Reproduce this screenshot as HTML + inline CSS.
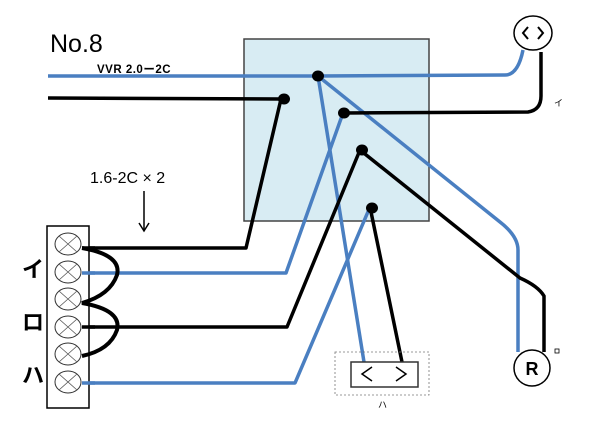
<!DOCTYPE html>
<html><head><meta charset="utf-8"><style>
body{margin:0;background:#fff;}
svg{display:block;}
text{font-family:"Liberation Sans","Noto Sans CJK JP",sans-serif;}
</style></head><body>
<svg width="600" height="424" viewBox="0 0 600 424" xmlns="http://www.w3.org/2000/svg">
<rect x="244" y="39" width="185" height="182" fill="#d8ecf3" stroke="#444" stroke-width="1.5"/>
<text x="50" y="52" font-size="25">No.8</text>
<text x="97" y="73" font-size="11.5" font-weight="bold" letter-spacing="0.5">VVR  2.0ー2C</text>
<text x="90" y="183" font-size="16">1.6-2C × 2</text>
<line x1="144" y1="191" x2="144" y2="230" stroke="#000" stroke-width="1.5"/>
<path d="M139 223 L144 231 L149 223" fill="none" stroke="#000" stroke-width="1.5"/>
<g fill="none" stroke-width="3.5" stroke-linejoin="round">
<path d="M48 76 L318 76 L505 75 Q518 75 523 50" stroke="#4a7fc1"/>
<path d="M318 76 L364 362" stroke="#4a7fc1"/>
<path d="M318 76 L500 222 Q518 236 518 250 L518 352" stroke="#4a7fc1"/>
<path d="M343 113 L286 273 L82 273" stroke="#4a7fc1"/>
<path d="M370 207 L295 383 L82 383" stroke="#4a7fc1"/>
<path d="M48 98 L281 99 L246 248 L82 248" stroke="#000"/>
<path d="M343 113 L528 112 Q541 110 541 96 L541 52" stroke="#000"/>
<path d="M360 150 L287 327 L82 327" stroke="#000"/>
<path d="M360 150 L520 278 Q538 286 544 296 L544 352" stroke="#000"/>
<path d="M370 207 L402 362" stroke="#000"/>
</g>
<g fill="#000">
<ellipse cx="318" cy="76" rx="6" ry="5.5"/>
<ellipse cx="284" cy="99" rx="6" ry="5.5"/>
<ellipse cx="344" cy="113" rx="6" ry="5.5"/>
<ellipse cx="362" cy="150" rx="6" ry="5.5"/>
<ellipse cx="372" cy="208" rx="6" ry="5.5"/>
</g>
<rect x="47" y="226" width="42" height="182" fill="#fff" stroke="#000" stroke-width="1.5"/>
<g fill="#fff" stroke="#333" stroke-width="1">
<ellipse cx="68" cy="244" rx="13" ry="11"/>
<ellipse cx="68" cy="272" rx="13" ry="11"/>
<ellipse cx="68" cy="299" rx="13" ry="11"/>
<ellipse cx="68" cy="327" rx="13" ry="11"/>
<ellipse cx="68" cy="354" rx="13" ry="11"/>
<ellipse cx="68" cy="382" rx="13" ry="11"/>
</g>
<g stroke="#555" stroke-width="0.8">
<path d="M59 236 L77 252 M77 236 L59 252"/>
<path d="M59 264 L77 280 M77 264 L59 280"/>
<path d="M59 291 L77 307 M77 291 L59 307"/>
<path d="M59 319 L77 335 M77 319 L59 335"/>
<path d="M59 346 L77 362 M77 346 L59 362"/>
<path d="M59 374 L77 390 M77 374 L59 390"/>
</g>
<g fill="none" stroke-width="3.5">
<path d="M82 273 L95 273" stroke="#4a7fc1"/>
<path d="M82 383 L95 383" stroke="#4a7fc1"/>
<path d="M82 248 L95 248 M82 327 L95 327" stroke="#000"/>
<path d="M82 248 Q122 255 117 275 Q110 295 82 303 Q122 310 117 330 Q110 350 82 356" stroke="#000" stroke-width="4"/>
</g>
<g font-size="22" font-weight="bold">
<text x="22" y="277">イ</text>
<text x="22" y="330">ロ</text>
<text x="22" y="383">ハ</text>
</g>
<ellipse cx="533" cy="33" rx="19" ry="17" fill="#fff" stroke="#000" stroke-width="1.5"/>
<path d="M528 27 L523 33 L528 39 M538 27 L543 33 L538 39" fill="none" stroke="#000" stroke-width="2"/>
<text x="554" y="106" font-size="9">イ</text>
<rect x="335" y="352" width="94" height="43" fill="none" stroke="#777" stroke-width="0.8" stroke-dasharray="2,2"/>
<rect x="351" y="362" width="67" height="25" fill="#fff" stroke="#333" stroke-width="1.5"/>
<path d="M372 367 L362 374 L372 381 M396 367 L406 374 L396 381" fill="none" stroke="#000" stroke-width="1.5"/>
<text x="378" y="408" font-size="9">ハ</text>
<circle cx="532" cy="368" r="18" fill="#fff" stroke="#000" stroke-width="1.5"/>
<text x="532" y="375" font-size="18" font-weight="bold" text-anchor="middle">R</text>
<rect x="555" y="349" width="4" height="4" fill="none" stroke="#000" stroke-width="0.8"/>
</svg>
</body></html>
